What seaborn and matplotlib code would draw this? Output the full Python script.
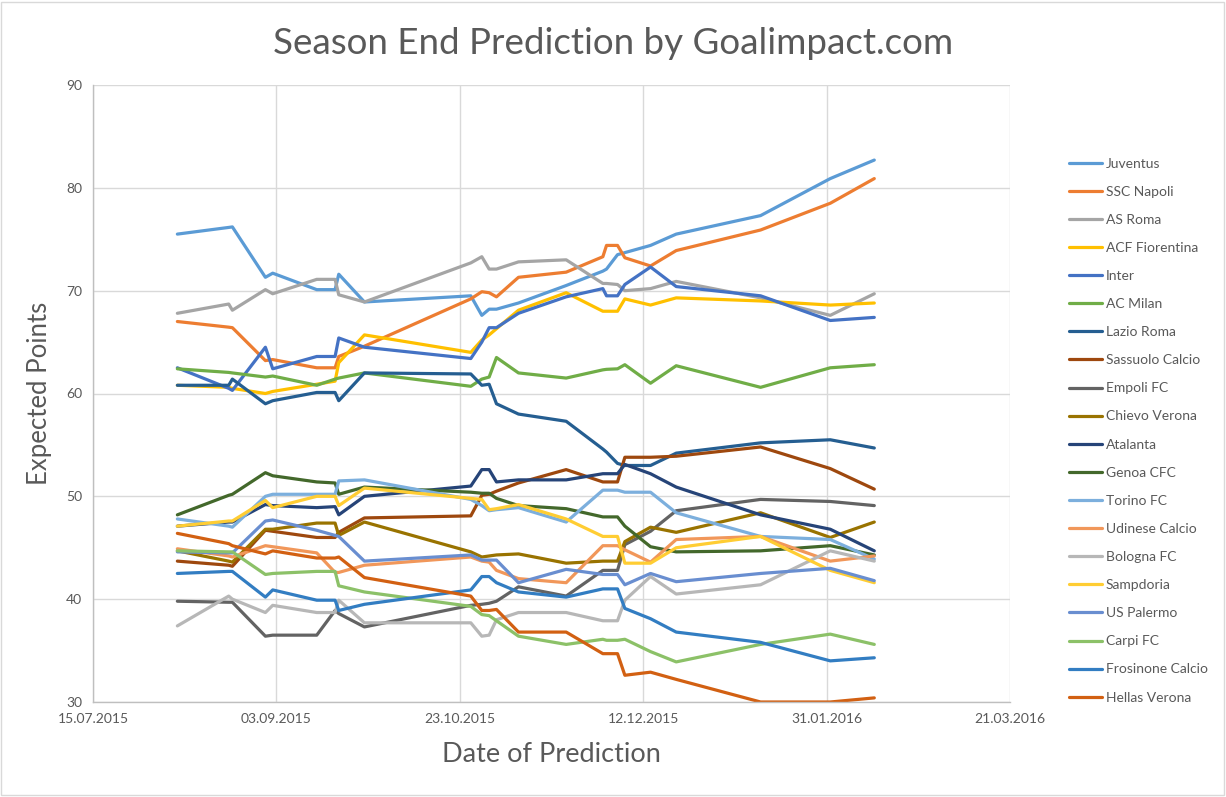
import matplotlib
matplotlib.use('Agg')
import matplotlib.pyplot as plt
import matplotlib.dates as mdates
from matplotlib.patches import Rectangle
import pandas as pd
import seaborn as sns

# prediction dates
dates = ['2015-08-07', '2015-08-21', '2015-08-22', '2015-08-31', '2015-09-02', '2015-09-14',
         '2015-09-19', '2015-09-20', '2015-09-27', '2015-10-26', '2015-10-29', '2015-10-31',
         '2015-11-02', '2015-11-08', '2015-11-21', '2015-12-01', '2015-12-02', '2015-12-05',
         '2015-12-07', '2015-12-14', '2015-12-21', '2016-01-13', '2016-02-01', '2016-02-13']

juventus = [75.5, 76.15, 76.2, 71.3, 71.7, 70.1, 70.1, 71.6, 68.9, 69.5, 67.6, 68.2, 68.2, 68.8, 70.5, 71.9, 72.1, 73.5, 73.7, 74.4, 75.5, 77.3, 80.9, 82.7]
napoli = [67.0, 66.45, 66.4, 63.2, 63.3, 62.5, 62.5, 63.6, 64.6, 69.2, 69.9, 69.8, 69.4, 71.3, 71.8, 73.3, 74.4, 74.4, 73.2, 72.4, 73.9, 75.9, 78.5, 80.9]
roma = [67.8, 68.7, 68.1, 70.1, 69.7, 71.1, 71.1, 69.6, 68.9, 72.7, 73.3, 72.1, 72.1, 72.8, 73.0, 70.7, 70.7, 70.6, 70.0, 70.2, 70.9, 69.3, 67.6, 69.7]
fiorentina = [60.8, 60.6, 60.5, 60.0, 60.2, 60.9, 61.2, 63.0, 65.7, 64.0, 65.2, 65.7, 66.3, 68.1, 69.8, 68.0, 68.0, 68.0, 69.2, 68.6, 69.3, 69.0, 68.6, 68.8]
inter = [62.5, 60.5, 60.3, 64.5, 62.4, 63.6, 63.6, 65.4, 64.5, 63.4, 65.0, 66.4, 66.4, 67.8, 69.4, 70.2, 69.5, 69.5, 70.6, 72.3, 70.4, 69.5, 67.1, 67.4]
milan = [62.4, 62.05, 62.0, 61.6, 61.7, 60.8, 61.4, 61.5, 62.0, 60.7, 61.4, 61.6, 63.5, 62.0, 61.5, 62.3, 62.35, 62.4, 62.8, 61.0, 62.7, 60.6, 62.5, 62.8]
lazio = [60.8, 60.8, 61.4, 59.0, 59.3, 60.1, 60.1, 59.3, 62.0, 61.9, 60.8, 60.9, 59.0, 58.0, 57.3, 54.6, 54.3, 53.2, 53.0, 53.0, 54.2, 55.2, 55.5, 54.7]
sassuolo = [43.7, 43.3, 43.2, 46.7, 46.6, 46.0, 46.0, 46.5, 47.9, 48.1, 50.1, 50.2, 50.5, 51.3, 52.6, 51.4, 51.4, 51.4, 53.8, 53.8, 53.9, 54.8, 52.7, 50.7]
empoli = [39.8, 39.7, 39.7, 36.4, 36.5, 36.5, 38.9, 38.6, 37.3, 39.4, 39.5, 39.6, 39.8, 41.2, 40.3, 42.8, 42.8, 42.8, 45.3, 46.6, 48.6, 49.7, 49.5, 49.1]
chievo = [44.7, 43.7, 43.6, 46.8, 46.8, 47.4, 47.4, 46.2, 47.5, 44.6, 44.1, 44.2, 44.3, 44.4, 43.5, 43.7, 43.7, 43.7, 45.6, 47.0, 46.5, 48.4, 46.0, 47.5]
atalanta = [47.1, 47.5, 47.5, 49.2, 49.1, 48.9, 49.0, 48.2, 50.0, 51.0, 52.6, 52.6, 51.4, 51.6, 51.6, 52.2, 52.2, 52.2, 53.1, 52.2, 50.9, 48.2, 46.8, 44.7]
genoa = [48.2, 50.1, 50.2, 52.3, 52.0, 51.4, 51.3, 50.2, 50.9, 50.4, 50.3, 50.3, 49.8, 49.1, 48.8, 48.0, 48.0, 48.0, 47.1, 45.1, 44.6, 44.7, 45.2, 44.3]
torino = [47.8, 47.1, 47.0, 50.0, 50.2, 50.2, 50.2, 51.5, 51.6, 49.7, 49.1, 48.6, 48.7, 48.9, 47.5, 50.6, 50.6, 50.6, 50.4, 50.4, 48.4, 46.1, 45.8, 43.9]
udinese = [44.9, 44.2, 44.1, 45.2, 45.1, 44.5, 42.6, 42.6, 43.3, 44.1, 43.7, 43.6, 42.8, 42.0, 41.6, 45.2, 45.2, 45.2, 44.8, 43.6, 45.8, 46.1, 43.7, 44.2]
bologna = [37.4, 40.3, 40.0, 38.7, 39.4, 38.7, 38.7, 39.9, 37.7, 37.7, 36.4, 36.5, 38.0, 38.7, 38.7, 37.9, 37.9, 37.9, 39.9, 42.2, 40.5, 41.4, 44.7, 43.7]
sampdoria = [47.1, 47.6, 47.6, 49.6, 48.9, 50.0, 50.0, 49.1, 50.8, 49.8, 49.7, 48.7, 48.8, 49.2, 47.8, 46.1, 46.1, 46.1, 43.5, 43.5, 45.0, 46.1, 42.8, 41.6]
palermo = [44.6, 44.5, 44.5, 47.6, 47.7, 46.7, 46.2, 46.1, 43.7, 44.3, 43.8, 43.8, 43.8, 41.6, 42.9, 42.4, 42.4, 42.4, 41.4, 42.5, 41.7, 42.5, 43.0, 41.8]
carpi = [44.7, 44.6, 44.6, 42.4, 42.5, 42.7, 42.7, 41.3, 40.7, 39.3, 38.5, 38.4, 37.9, 36.4, 35.6, 36.1, 36.0, 36.0, 36.1, 34.9, 33.9, 35.6, 36.6, 35.6]
frosinone = [42.5, 42.7, 42.7, 40.2, 40.9, 39.9, 39.9, 38.9, 39.5, 40.9, 42.2, 42.2, 41.6, 40.7, 40.2, 41.0, 41.0, 41.0, 39.1, 38.1, 36.8, 35.8, 34.0, 34.3]
hellas = [46.4, 45.4, 45.2, 44.4, 44.7, 44.0, 44.0, 44.1, 42.1, 40.3, 38.9, 38.9, 39.0, 36.8, 36.8, 34.7, 34.7, 34.7, 32.6, 32.9, 32.2, 30.0, 30.0, 30.4]

teams = ['Juventus', 'SSC Napoli', 'AS Roma', 'ACF Fiorentina', 'Inter', 'AC Milan',
         'Lazio Roma', 'Sassuolo Calcio', 'Empoli FC', 'Chievo Verona', 'Atalanta',
         'Genoa CFC', 'Torino FC', 'Udinese Calcio', 'Bologna FC', 'Sampdoria',
         'US Palermo', 'Carpi FC', 'Frosinone Calcio', 'Hellas Verona']
series = [juventus, napoli, roma, fiorentina, inter, milan, lazio, sassuolo, empoli, chievo,
          atalanta, genoa, torino, udinese, bologna, sampdoria, palermo, carpi, frosinone, hellas]
colors = ['#5B9BD5', '#ED7D31', '#A5A5A5', '#FFC000', '#4472C4', '#70AD47',
          '#255E91', '#9E480E', '#636363', '#997300', '#264478', '#43682B',
          '#7CAFDD', '#F1975A', '#B7B7B7', '#FFCD33', '#698ED0', '#8CC168',
          '#327DC2', '#D26012']

rows = []
for team, vals in zip(teams, series):
    for d, v in zip(dates, vals):
        rows.append({'date': pd.Timestamp(d), 'points': v, 'team': team})
df = pd.DataFrame(rows)
palette = dict(zip(teams, colors))

sns.set_theme(style='white')
plt.rcParams['font.family'] = ['Lato', 'DejaVu Sans']
txt = '#595959'

fig = plt.figure(figsize=(12.26, 7.97), dpi=100)
ax = fig.add_axes([93 / 1226, 1 - 702 / 797, (1010 - 93) / 1226, (702 - 85) / 797])
sns.lineplot(data=df, x='date', y='points', hue='team', hue_order=teams, palette=palette,
             linewidth=2.3, errorbar=None, ax=ax)

ax.set_xlim(pd.Timestamp('2015-07-15'), pd.Timestamp('2016-03-21'))
ax.set_ylim(30, 90)
ax.set_xticks(pd.date_range('2015-07-15', periods=6, freq='50D'))
ax.xaxis.set_major_formatter(mdates.DateFormatter('%d.%m.%Y'))
ax.set_yticks(range(30, 91, 10))
ax.grid(True, color='#D9D9D9', linewidth=1)
ax.tick_params(length=0, labelsize=10, colors=txt, pad=8)
for s in ['top', 'right']:
    ax.spines[s].set_visible(False)
for s in ['left', 'bottom']:
    ax.spines[s].set_color('#BFBFBF')
    ax.spines[s].set_linewidth(1)

ax.set_xlabel('Date of Prediction', fontsize=19.5, color=txt, labelpad=12)
ax.set_ylabel('Expected Points', fontsize=18.5, color=txt, labelpad=10)

handles, labels = ax.get_legend_handles_labels()
ax.get_legend().remove()
fig.legend(handles, labels, loc='upper left', bbox_to_anchor=(1056 / 1226, 1 - 145 / 797),
           frameon=False, fontsize=10, labelspacing=1.16, handlelength=2.4,
           handletextpad=0.3, labelcolor=txt)

fig.text(0.5, 1 - 43 / 797, 'Season End Prediction by Goalimpact.com', ha='center',
         va='center', fontsize=26.5, color=txt)
fig.patches.append(Rectangle((0.001, 0.002), 0.997, 0.996, transform=fig.transFigure,
                             fill=False, edgecolor='#D9D9D9', linewidth=1))

fig.savefig('out.png', dpi=100)
